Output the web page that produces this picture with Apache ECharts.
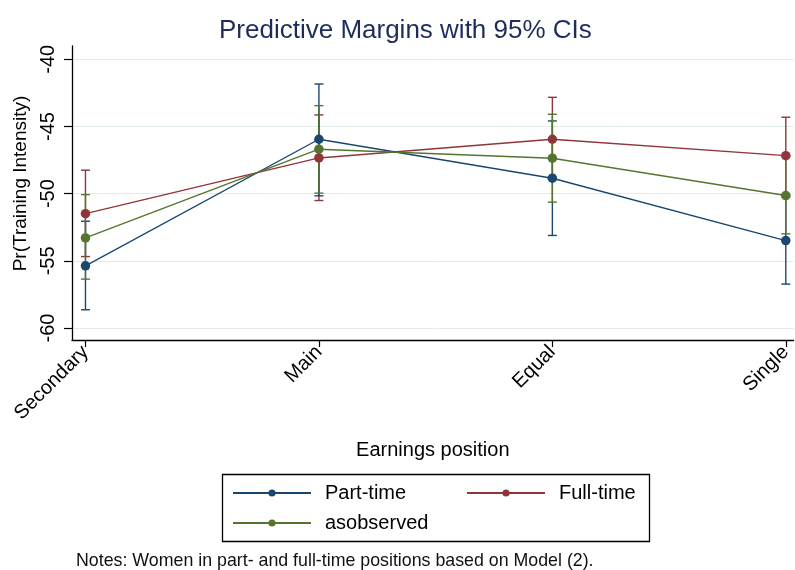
<!DOCTYPE html>
<html>
<head>
<meta charset="utf-8">
<script src="https://cdn.jsdelivr.net/npm/echarts@6/dist/echarts.min.js"></script>
<style>
html,body{margin:0;padding:0;background:#fff;}
#chart{width:795px;height:570px;}
</style>
</head>
<body>
<div id="chart"></div>
<script>
// ---- data ----
const categories = ['Secondary', 'Main', 'Equal', 'Single'];
const yTicks = [-60, -55, -50, -45, -40];

const partTime   = [-55.37, -45.95, -48.85, -53.49];
const partTimeLo = [-58.64, -50.16, -53.11, -56.73];
const partTimeHi = [-52.05, -41.84, -44.59, -50.25];

const fullTime   = [-51.49, -47.34, -45.95, -47.17];
const fullTimeLo = [-54.68, -50.51, -48.90, -50.10];
const fullTimeHi = [-48.25, -44.14, -42.83, -44.31];

const asObserved   = [-53.29, -46.69, -47.36, -50.14];
const asObservedLo = [-56.36, -49.96, -50.63, -52.99];
const asObservedHi = [-50.07, -43.45, -44.09, -47.20];

// ---- styling ----
const FONT = '"Liberation Sans", Arial, Helvetica, sans-serif';
const C_BLUE = '#1a476f', C_RED = '#90353b', C_GREEN = '#55752f';

function pts(vals) { return vals.map((v, i) => [i, v]); }
function ci(lo, hi) { return lo.map((l, i) => [i, l, hi[i]]); }

function errRender(color) {
  return function (params, api) {
    const i = api.value(0);
    const pLo = api.coord([i, api.value(1)]);
    const pHi = api.coord([i, api.value(2)]);
    const w = 4.5;
    const style = { stroke: color, lineWidth: 1.4, fill: null };
    return {
      type: 'group',
      children: [
        { type: 'line', shape: { x1: pLo[0], y1: pLo[1], x2: pHi[0], y2: pHi[1] }, style: style },
        { type: 'line', shape: { x1: pLo[0] - w, y1: pLo[1], x2: pLo[0] + w, y2: pLo[1] }, style: style },
        { type: 'line', shape: { x1: pHi[0] - w, y1: pHi[1], x2: pHi[0] + w, y2: pHi[1] }, style: style }
      ]
    };
  };
}

function errSeries(name, lo, hi, color, z) {
  return {
    type: 'custom', name: name, z: z, silent: true,
    renderItem: errRender(color),
    encode: { x: 0, y: [1, 2] },
    data: ci(lo, hi)
  };
}

function lineSeries(name, vals, color, z) {
  return {
    type: 'line', name: name, z: z,
    data: pts(vals),
    symbol: 'circle', symbolSize: 9.5,
    showSymbol: true,
    lineStyle: { color: color, width: 1.4 },
    itemStyle: { color: color },
    emphasis: { disabled: true },
    animation: false
  };
}

function legendItem(name, left, top) {
  return {
    data: [name], left: left, top: top, padding: 0,
    orient: 'horizontal',
    itemWidth: 78, itemHeight: 9,
    textStyle: { fontFamily: FONT, fontSize: 20, color: '#000', lineHeight: 22, padding: [0, 0, 0, 9] },
    selectedMode: false
  };
}

const chart = echarts.init(document.getElementById('chart'), null, { renderer: 'canvas' });
chart.setOption({
  animation: false,
  backgroundColor: '#ffffff',
  title: [
    { text: 'Predictive Margins with 95% CIs', left: 219, top: 18, padding: 0,
      textStyle: { fontFamily: FONT, fontSize: 26, fontWeight: 'normal', color: '#1e2c5c' } },
    { text: 'Notes: Women in part- and full-time positions based on Model (2).', left: 76, top: 552, padding: 0,
      textStyle: { fontFamily: FONT, fontSize: 17.8, fontWeight: 'normal', color: '#111' } }
  ],
  legend: [
    legendItem('Part-time', 232, 482),
    legendItem('Full-time', 466, 482),
    legendItem('asobserved', 232, 512)
  ],
  graphic: [
    { type: 'rect', shape: { x: 222.5, y: 474.5, width: 427, height: 67 },
      style: { fill: null, stroke: '#000', lineWidth: 1.3 }, silent: true }
  ],
  grid: { left: 72, top: 46, width: 723, height: 294, containLabel: false },
  xAxis: {
    type: 'value',
    min: -0.0577, max: 3.0333,
    name: 'Earnings position', nameLocation: 'middle', nameGap: 100,
    nameTextStyle: { fontFamily: FONT, fontSize: 20, color: '#000' },
    axisLine: { show: true, onZero: false, lineStyle: { color: '#000', width: 1.3 } },
    axisTick: { show: true, length: 7, customValues: [0, 1, 2, 3], lineStyle: { color: '#000', width: 1.2 } },
    axisLabel: {
      customValues: [0, 1, 2, 3],
      formatter: function (v) { return categories[Math.round(v)]; },
      rotate: 45, margin: 9,
      fontFamily: FONT, fontSize: 20, color: '#000'
    },
    splitLine: { show: false }
  },
  yAxis: {
    type: 'value',
    min: -60.89, max: -39.01,
    name: 'Pr(Training Intensity)', nameLocation: 'middle', nameGap: 38,
    nameTextStyle: { fontFamily: FONT, fontSize: 19, color: '#000', padding: [0, 0, 0, 19] },
    axisLine: { show: true, onZero: false, lineStyle: { color: '#000', width: 1.3 } },
    axisTick: { show: true, length: 8, customValues: yTicks, lineStyle: { color: '#000', width: 1.2 } },
    axisLabel: {
      customValues: yTicks,
      rotate: 90, margin: 14,
      fontFamily: FONT, fontSize: 20, color: '#000'
    },
    splitLine: { show: true, lineStyle: { color: '#e3eced', width: 1 } }
  },
  series: [
    errSeries('Full-time CI', fullTimeLo, fullTimeHi, C_RED, 2),
    errSeries('Part-time CI', partTimeLo, partTimeHi, C_BLUE, 3),
    errSeries('asobserved CI', asObservedLo, asObservedHi, C_GREEN, 4),
    lineSeries('Part-time', partTime, C_BLUE, 6),
    lineSeries('Full-time', fullTime, C_RED, 5),
    lineSeries('asobserved', asObserved, C_GREEN, 7)
  ]
});
</script>
</body>
</html>
